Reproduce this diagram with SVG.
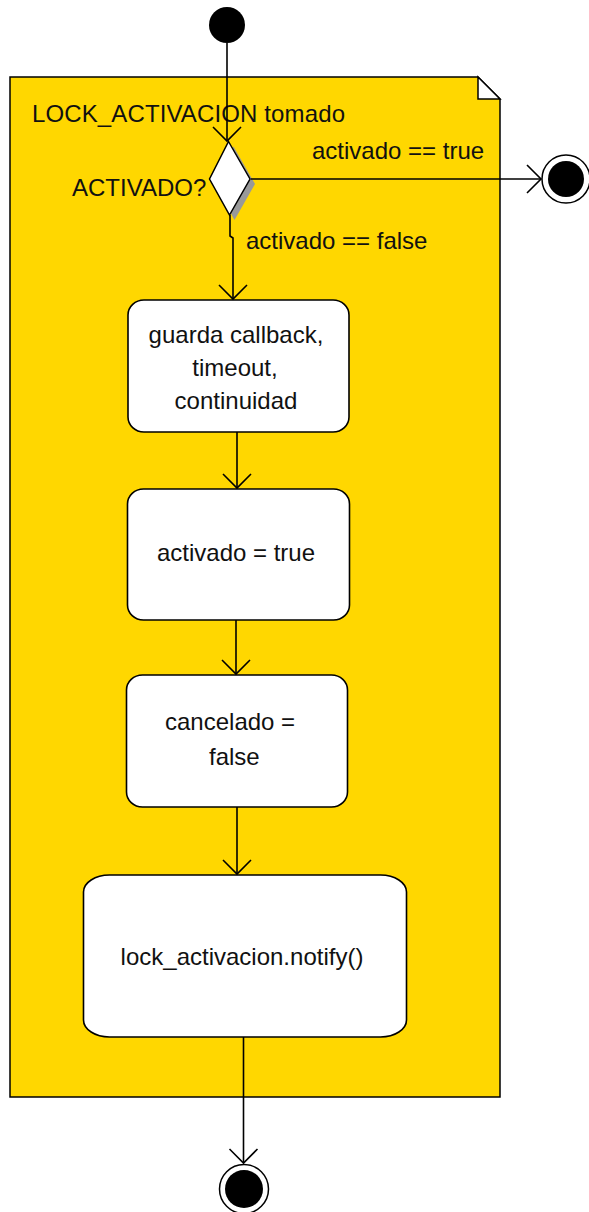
<svg xmlns="http://www.w3.org/2000/svg" width="589" height="1212" viewBox="0 0 589 1212">
  <style>
    .note { fill: #FFD700; stroke: #000; stroke-width: 1.5; }
    .fold { fill: #fff; stroke: #000; stroke-width: 1.5; }
    .act { fill: #fff; stroke: #000; stroke-width: 1.6; }
    .lbl { font-family: "Liberation Sans", Arial, sans-serif; font-size: 24px; fill: #111; }
    .mid { text-anchor: middle; }
    .edge { fill: none; stroke: #000; stroke-width: 1.6; marker-end: url(#open); }
  </style>
  <defs>
    <marker id="open" markerUnits="userSpaceOnUse" markerWidth="32" markerHeight="32" viewBox="-16 -16 32 32" refX="0" refY="0" orient="auto">
      <path d="M -14 -14 L 0 0 L -14 14" fill="none" stroke="#000" stroke-width="1.6"/>
    </marker>
  </defs>

  <!-- swimlane note with folded corner -->
  <g id="note">
    <path class="note" d="M 10 77 L 478 77 L 500 99 L 500 1097 L 10 1097 Z"/>
    <path class="fold" d="M 478 77 L 478 99 L 500 99 Z"/>
    <text class="lbl" x="32" y="122" textLength="313">LOCK_ACTIVACION tomado</text>
  </g>

  <!-- initial state -->
  <g id="start">
    <circle cx="227" cy="25" r="18" fill="#000"/>
  </g>

  <!-- decision with drop shadow -->
  <g id="decision">
    <path d="M 233.5 146.5 L 255 184 L 234.5 220 L 214.5 184 Z" fill="#999"/>
    <path d="M 228.5 141.5 L 250 179 L 229.5 215 L 209.5 179 Z" fill="#fff" stroke="#000" stroke-width="1.5"/>
    <text class="lbl" x="72" y="196">ACTIVADO?</text>
  </g>

  <!-- actions -->
  <g id="guarda">
    <rect class="act" x="128" y="300" width="221" height="132" rx="16" ry="15"/>
    <text class="lbl mid" x="236" y="343">guarda callback,</text>
    <text class="lbl mid" x="235" y="376">timeout,</text>
    <text class="lbl mid" x="236" y="409">continuidad</text>
  </g>
  <g id="activado">
    <rect class="act" x="127.5" y="489" width="222" height="131" rx="16" ry="15"/>
    <text class="lbl mid" x="236" y="561">activado = true</text>
  </g>
  <g id="cancelado">
    <rect class="act" x="126.5" y="675" width="221" height="132" rx="16" ry="15"/>
    <text class="lbl" x="165" y="730">cancelado =</text>
    <text class="lbl" x="209" y="765">false</text>
  </g>
  <g id="notify">
    <rect class="act" x="83.5" y="875" width="323" height="162" rx="26" ry="17"/>
    <text class="lbl mid" x="242" y="965">lock_activacion.notify()</text>
  </g>

  <!-- final states -->
  <g id="end-true">
    <circle cx="566" cy="179" r="24" fill="#fff" stroke="#000" stroke-width="1.5"/>
    <circle cx="566" cy="179" r="18" fill="#000"/>
  </g>
  <g id="end">
    <circle cx="244" cy="1189" r="24.5" fill="#fff" stroke="#000" stroke-width="1.5"/>
    <circle cx="244" cy="1189" r="19" fill="#000"/>
  </g>

  <!-- transitions -->
  <g id="connectors">
    <path class="edge" d="M 227 43 L 227 141"/>
    <path class="edge" d="M 251 179 L 541 179"/>
    <text class="lbl" x="312" y="159">activado == true</text>
    <path class="edge" d="M 230 215 L 230 236 L 233 238 L 233 299"/>
    <text class="lbl" x="246" y="249">activado == false</text>
    <path class="edge" d="M 237 432 L 237 488"/>
    <path class="edge" d="M 236 620 L 236 674"/>
    <path class="edge" d="M 237 807 L 237 874"/>
    <path class="edge" d="M 243.5 1037 L 243.5 1163"/>
  </g>
</svg>
